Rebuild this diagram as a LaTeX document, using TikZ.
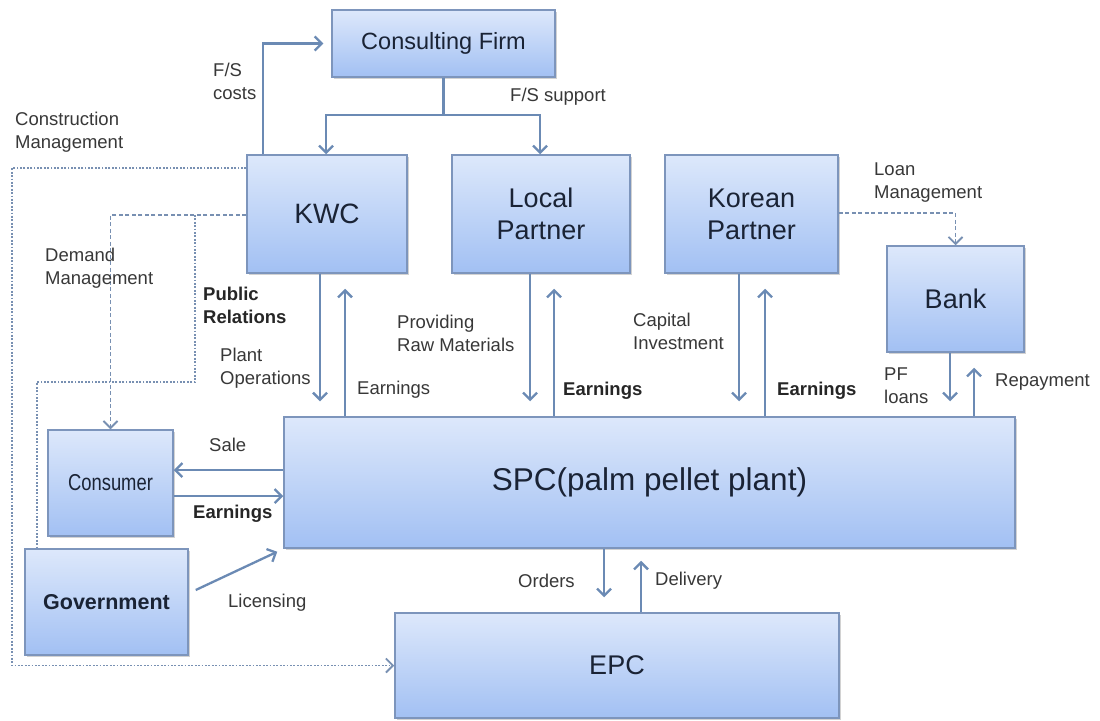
\documentclass[tikz,border=0pt]{standalone}
\usepackage{graphicx}
\usepackage{fontspec}
\setmainfont{Liberation Sans}
\usetikzlibrary{arrows.meta,shadows,calc}
\definecolor{boxtop}{HTML}{DDE8FB}
\definecolor{boxbot}{HTML}{A2C0F3}
\definecolor{boxline}{HTML}{7D95BC}
\definecolor{arrcol}{HTML}{6B8AB4}
\definecolor{dashcol}{HTML}{7890B2}
\definecolor{labcol}{HTML}{383838}
\definecolor{boxtext}{HTML}{1A2335}
\begin{document}
\begin{tikzpicture}[x=1pt,y=-1pt,
 box/.style={draw=boxline, line width=1.5pt, top color=boxtop, bottom color=boxbot, inner sep=0pt, align=center, text=boxtext,
   drop shadow={shadow xshift=1.5pt, shadow yshift=-1.5pt, opacity=0.35, fill=gray}},
 lab/.style={anchor=west, inner sep=0pt, align=left, text=labcol, font=\fontsize{18.5}{23}\selectfont},
 blab/.style={anchor=west, inner sep=0pt, align=left, text=black!85, font=\fontsize{18.5}{23}\selectfont\bfseries},
 conn/.style={draw=arrcol, line width=2.3pt},
 arr/.style={conn, -{Straight Barb[length=7pt,width=14pt]}},
 dotline/.style={draw=dashcol, line width=1.8pt, dash pattern=on 1.8pt off 1.6pt},
 dashline/.style={draw=dashcol, line width=1.8pt, dash pattern=on 4pt off 2.5pt},
 darr/.style={-{Straight Barb[length=7pt,width=14pt,line width=1.8pt]}}
]
\useasboundingbox (0,0) rectangle (1100,720);
\fill[white] (0,0) rectangle (1100,720);

% boxes
\node[box, minimum width=223pt, minimum height=67pt, font=\fontsize{23.5}{28}\selectfont] (cf) at (443.5,43.5) {Consulting Firm};
\node[box, minimum width=160pt, minimum height=118pt, font=\fontsize{28}{32}\selectfont] (kwc) at (327,214) {KWC};
\node[box, minimum width=178pt, minimum height=118pt, font=\fontsize{27}{32}\selectfont] (lp) at (541,214) {Local\\Partner};
\node[box, minimum width=173pt, minimum height=118pt, font=\fontsize{27}{32}\selectfont] (kp) at (751.5,214) {Korean\\Partner};
\node[box, minimum width=137pt, minimum height=106pt, font=\fontsize{27}{32}\selectfont] (bank) at (955.5,299) {Bank};
\node[box, minimum width=731pt, minimum height=131pt, font=\fontsize{31.5}{36}\selectfont] (spc) at (649.5,482.5) {SPC(palm pellet plant)};
\node[box, minimum width=125pt, minimum height=106pt, font=\fontsize{23}{26}\selectfont] (cons) at (110.5,483) {\scalebox{0.8}[1]{Consumer}};
\node[box, minimum width=163pt, minimum height=106pt, font=\fontsize{21.5}{26}\selectfont\bfseries] (gov) at (106.5,602) {Government};
\node[box, minimum width=444pt, minimum height=105pt, font=\fontsize{27}{32}\selectfont] (epc) at (617,665.5) {EPC};

% helper coordinates
\coordinate (fsj) at (443.5,115);
\coordinate (cmx) at (12,400);
\coordinate (prtop) at (195,215);
\coordinate (prmid) at (195,382);

% F/S costs and support
\draw[arr, shorten >=8pt] ([xshift=-64pt]kwc.north) |- (cf.west);
\draw[conn] (cf.south) -- (fsj);
\draw[arr] (fsj) -| ([xshift=-1pt]kwc.north);
\draw[arr] (fsj) -| ([xshift=-1pt]lp.north);

% vertical flows to/from SPC
\draw[arr, shorten >=15pt] ([xshift=-7pt]kwc.south) -- ([xshift=-7pt]kwc.south |- spc.north);
\draw[arr, shorten >=15pt] ([xshift=18pt]kwc.south |- spc.north) -- ([xshift=18pt]kwc.south);
\draw[arr, shorten >=15pt] ([xshift=-11pt]lp.south) -- ([xshift=-11pt]lp.south |- spc.north);
\draw[arr, shorten >=15pt] ([xshift=13pt]lp.south |- spc.north) -- ([xshift=13pt]lp.south);
\draw[arr, shorten >=15pt] ([xshift=-12.5pt]kp.south) -- ([xshift=-12.5pt]kp.south |- spc.north);
\draw[arr, shorten >=15pt] ([xshift=13.5pt]kp.south |- spc.north) -- ([xshift=13.5pt]kp.south);
\draw[arr, shorten >=15pt] ([xshift=-5.5pt]bank.south) -- ([xshift=-5.5pt]bank.south |- spc.north);
\draw[arr, shorten >=15pt] ([xshift=18.5pt]bank.south |- spc.north) -- ([xshift=18.5pt]bank.south);
\draw[arr, shorten >=15pt] ([xshift=-13pt]epc.north |- spc.south) -- ([xshift=-13pt]epc.north);
\draw[arr, shorten >=12pt] ([xshift=24pt]epc.north) -- ([xshift=24pt]epc.north |- spc.south);

% consumer flows
\draw[arr] ([yshift=12.5pt]spc.west) -- ([yshift=12.5pt]spc.west -| cons.east);
\draw[arr] ([yshift=-13.5pt]spc.west -| cons.east) -- ([yshift=-13.5pt]spc.west);
\draw[arr] ($(gov.east)+(7,-12)$) -- ($(spc.south west)+(-6,3)$);

% dashed management lines
\draw[dotline, darr] ([yshift=46pt]kwc.west) -| (cmx) |- (epc.west);
\draw[dashline, darr] ([yshift=-1pt]kwc.west) -| (cons.north);
\draw[dotline] (prtop) -- (prmid) -| ([xshift=-69.5pt]gov.north);
\draw[dashline, darr] ([yshift=1pt]kp.east) -| (bank.north);

% labels
\node[lab] (l1) at (213,81.5) {F/S\\costs};
\node[lab] (l2) at (15,132) {Construction\\Management};
\node[lab] (l3) at (45,268) {Demand\\Management};
\node[blab] (l4) at (203,305.5) {Public\\Relations};
\node[lab] (l5) at (220,368.5) {Plant\\Operations};
\node[lab] (l6) at (357,390) {Earnings};
\node[lab] (l7) at (209,445) {Sale};
\node[blab] (l8) at (193,514) {Earnings};
\node[lab] (l9) at (228,603) {Licensing};
\node[lab] (l10) at (397,333.5) {Providing\\Raw Materials};
\node[blab] (l11) at (563,391) {Earnings};
\node[lab] (l12) at (633,331) {Capital\\Investment};
\node[blab] (l13) at (777,391) {Earnings};
\node[lab] (l14) at (518,581) {Orders};
\node[lab] (l15) at (655,581) {Delivery};
\node[lab] (l16) at (874,182.5) {Loan\\Management};
\node[lab] (l17) at (884,386) {PF\\loans};
\node[lab] (l18) at (995,382) {Repayment};
\node[lab] (l19) at (510,97) {F/S support};
\end{tikzpicture}
\end{document}
